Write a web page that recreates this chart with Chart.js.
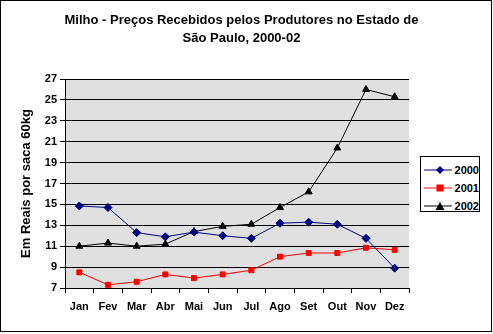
<!DOCTYPE html>
<html lang="pt">
<head>
  <meta charset="UTF-8" />
  <title>Milho - Preços Recebidos</title>
  <script src="https://cdn.jsdelivr.net/npm/chart.js"></script>
  <style>
    * { margin: 0; padding: 0; box-sizing: border-box; }
    body { background: #fff; font-family: Arial, 'Liberation Sans', sans-serif; }
    .wrap { position: relative; width: 493px; height: 334px; }
    .frame { position: absolute; left: 0; top: 0; width: 492px; height: 332px; border: 1px solid #000; pointer-events: none; }
    canvas { position: absolute; left: 0; top: 0; }
    .legend {
      position: absolute; left: 420px; top: 156px; width: 60px; height: 56px;
      border: 1px solid #000; background: #fff; padding-top: 4px;
    }
    .legend div { height: 18px; display: flex; align-items: center; font-size: 11px; font-weight: bold; }
    .legend svg { margin-left: 3px; margin-right: 3px; }
  </style>
</head>
<body>
  <div class="wrap">
    <canvas id="chart" width="493" height="334"></canvas>
    <div class="legend" id="legend"></div>
    <div class="frame"></div>
  </div>

  <script>
    const months = ['Jan', 'Fev', 'Mar', 'Abr', 'Mai', 'Jun', 'Jul', 'Ago', 'Set', 'Out', 'Nov', 'Dez'];
    const prices2000 = [14.85, 14.7, 12.3, 11.9, 12.35, 12.0, 11.75, 13.2, 13.3, 13.1, 11.75, 8.9];
    const prices2001 = [8.5, 7.3, 7.6, 8.3, 7.95, 8.3, 8.7, 10.0, 10.35, 10.35, 10.85, 10.65];
    const prices2002 = [11.0, 11.3, 11.0, 11.2, 12.4, 12.9, 13.1, 14.7, 16.2, 20.4, 26.0, 25.3];
    const yTicks = [7, 9, 11, 13, 15, 17, 19, 21, 23, 25, 27];

    const font = "Arial, 'Liberation Sans', sans-serif";

    const series = [
      { label: '2000', data: prices2000, color: '#000080', style: 'rectRot' },
      { label: '2001', data: prices2001, color: '#ff0000', style: 'rect' },
      { label: '2002', data: prices2002, color: '#000000', style: 'triangle' }
    ];

    // grey plot background
    const plotBg = {
      id: 'plotBg',
      beforeDraw(chart) {
        const a = chart.chartArea;
        const ctx = chart.ctx;
        ctx.save();
        ctx.fillStyle = '#e0e0e0';
        ctx.fillRect(a.left, a.top, a.right - a.left, a.bottom - a.top);
        ctx.restore();
      }
    };

    new Chart(document.getElementById('chart'), {
      type: 'line',
      data: {
        labels: months,
        datasets: series.map(s => ({
          label: s.label,
          data: s.data,
          borderColor: s.color,
          backgroundColor: s.color,
          borderWidth: 1,
          pointStyle: s.style,
          pointRadius: s.style === 'rect' ? 3.5 : 4,
          pointBorderWidth: 1,
          tension: 0,
          fill: false
        }))
      },
      options: {
        responsive: false,
        animation: false,
        layout: { padding: { left: 0, right: 10, top: 0, bottom: 0 } },
        plugins: {
          legend: { display: false },
          tooltip: { enabled: false },
          title: {
            display: true,
            text: ['Milho - Preços Recebidos pelos Produtores no Estado de', 'São Paulo, 2000-02'],
            color: '#000',
            font: { family: font, size: 13, weight: 'bold', lineHeight: 1.385 },
            padding: { top: 11, bottom: 32 }
          }
        },
        scales: {
          x: {
            offset: true,
            grid: { offset: true, drawOnChartArea: false, drawTicks: true, tickLength: 5, color: '#000' },
            border: { color: '#000' },
            ticks: { color: '#000', padding: 7, font: { family: font, size: 11, weight: 'bold' } },
            afterFit(scale) { scale.height = 46; }
          },
          y: {
            min: 7,
            max: 27,
            afterBuildTicks(scale) { scale.ticks = yTicks.map(v => ({ value: v })); },
            grid: { color: '#000', tickLength: 5 },
            border: { color: '#000' },
            ticks: { color: '#000', padding: 3, font: { family: font, size: 11, weight: 'bold' } },
            title: {
              display: true,
              text: 'Em Reais por saca 60kg',
              color: '#000',
              font: { family: font, size: 13, weight: 'bold' },
              padding: { top: 19, bottom: 0 }
            },
            afterFit(scale) { scale.width = 65; }
          },
          // empty right-hand space reserved for the legend box
          yRight: {
            position: 'right',
            min: 7,
            max: 27,
            grid: { drawOnChartArea: false, drawTicks: false },
            border: { display: false },
            ticks: { display: false },
            afterFit(scale) { scale.width = 74; }
          }
        }
      },
      plugins: [plotBg]
    });

    // legend with line + marker samples
    const markers = {
      rectRot: c => `<polygon points="16,1 20,5 16,9 12,5" fill="${c}"/>`,
      rect: c => `<rect x="12.5" y="1.5" width="7" height="7" fill="${c}"/>`,
      triangle: c => `<polygon points="16,1 20.5,9 11.5,9" fill="${c}"/>`
    };
    const legend = document.getElementById('legend');
    series.forEach(s => {
      const row = document.createElement('div');
      row.innerHTML = `<svg width="32" height="10"><line x1="0" y1="5" x2="32" y2="5" stroke="${s.color}" stroke-width="1"/>${markers[s.style](s.color)}</svg>${s.label}`;
      legend.appendChild(row);
    });
  </script>
</body>
</html>
